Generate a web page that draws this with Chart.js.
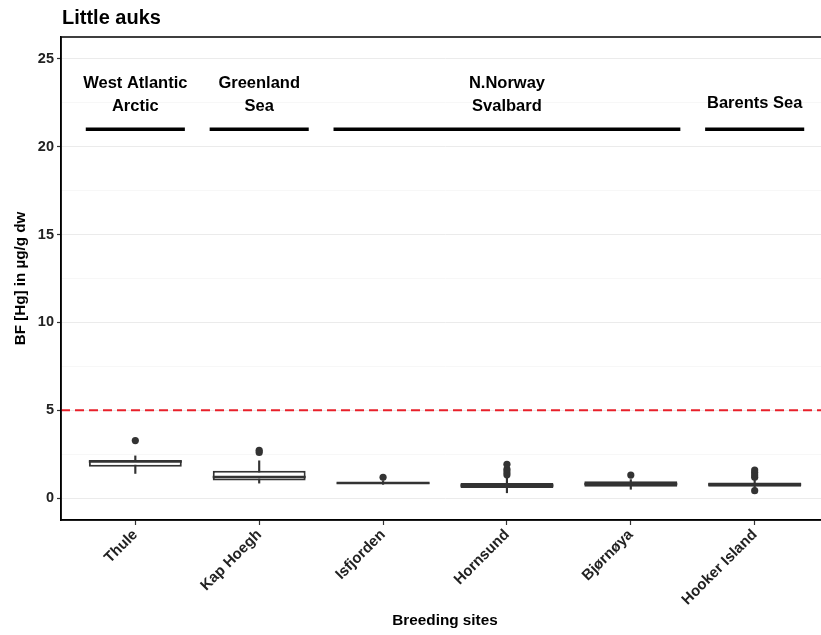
<!DOCTYPE html>
<html><head><meta charset="utf-8">
<script src="https://cdn.jsdelivr.net/npm/chart.js@4.4.1/dist/chart.umd.min.js"></script>
<style>html,body{margin:0;padding:0;background:#fff;overflow:hidden;}#wrap{width:840px;height:635px;}</style>
</head><body><div id="wrap"><canvas id="c" width="840" height="635"></canvas></div>
<script>
// ---- data ----
const categories = ['Thule', 'Kap Hoegh', 'Isfjorden', 'Hornsund', 'Bjørnøya', 'Hooker Island'];
const whiskerLow  = [1.40, 0.85, 0.78, 0.30, 0.50, 0.55];
const q1          = [1.78, 1.00, 0.80, 0.57, 0.65, 0.64];
const median      = [2.08, 1.20, 0.85, 0.72, 0.80, 0.77];
const q3          = [2.16, 1.55, 0.90, 0.86, 0.95, 0.88];
const whiskerHigh = [2.40, 2.12, 0.95, 1.15, 1.05, 1.00];
const outliers = [[3.27], [2.60, 2.72], [1.18], [1.32, 1.48, 1.64, 1.92], [1.31], [0.42, 1.18, 1.31, 1.45, 1.59]];
const yTickValues = [0, 5, 10, 15, 20, 25];
const thresholdValue = 5;
const groupNames = [['West Atlantic', 'Arctic'], ['Greenland', 'Sea'], ['N.Norway', 'Svalbard'], ['Barents Sea']];
const groupFrom = [0.6, 1.6, 2.6, 5.6];
const groupTo   = [1.4, 2.4, 5.4, 6.4];
const groupLineValue = 21;
const chartTitle = 'Little auks';
const xTitle = 'Breeding sites';
const yTitle = 'BF [Hg] in µg/g dw';

// ---- config ----
const X_MIN = 0.4, X_MAX = 6.6, Y_MIN = -1.25, Y_MAX = 26.25;
const FONT = '"Liberation Sans", Arial, sans-serif';
const DARK = '#333333';

const datasets = [];
// outliers (top)
datasets.push({
  type: 'line', showLine: false, order: 0,
  data: outliers.flatMap((arr, i) => arr.map(v => ({x: i + 1, y: v}))),
  pointRadius: 3.6, pointBackgroundColor: DARK, pointBorderWidth: 0
});
// medians
datasets.push({
  type: 'line', showLine: false, order: 1,
  data: median.map((v, i) => ({x: i + 1, y: v})),
  pointStyle: 'line', pointRadius: 46.5, pointBorderWidth: 2.5, pointBorderColor: DARK
});
// boxes
datasets.push({
  type: 'bar', order: 2, grouped: false,
  data: q1.map((v, i) => ({x: i + 1, y: [v, q3[i]]})),
  backgroundColor: '#ffffff', borderColor: DARK, borderWidth: 2, borderSkipped: false,
  barPercentage: 0.75, categoryPercentage: 1
});
// whiskers
datasets.push({
  type: 'bar', order: 3, grouped: false,
  data: whiskerLow.map((v, i) => ({x: i + 1, y: [v, whiskerHigh[i]]})),
  backgroundColor: DARK, borderWidth: 0, barThickness: 1.5
});
// group lines
groupFrom.forEach((f, i) => {
  datasets.push({
    type: 'line', order: 4,
    data: [{x: f, y: groupLineValue}, {x: groupTo[i], y: groupLineValue}],
    borderColor: '#000', borderWidth: 3.5, pointRadius: 0, borderCapStyle: 'butt'
  });
});
// threshold line
datasets.push({
  type: 'line', order: 5,
  data: [{x: X_MIN, y: thresholdValue}, {x: X_MAX, y: thresholdValue}],
  borderColor: '#e8202a', borderWidth: 1.8, borderDash: [9, 5], pointRadius: 0
});

const framePlugin = {
  id: 'frame',
  afterDraw(chart) {
    const {ctx, chartArea: a} = chart;
    ctx.save();
    ctx.strokeStyle = '#000'; ctx.lineWidth = 1.5;
    ctx.strokeRect(a.left, a.top, a.right - a.left, a.bottom - a.top);
    ctx.restore();
  }
};
const titlePlugin = {
  id: 'ttl',
  afterDraw(chart) {
    const {ctx, chartArea: a} = chart;
    ctx.save();
    ctx.font = 'bold 20px ' + FONT;
    ctx.fillStyle = '#000'; ctx.textAlign = 'left'; ctx.textBaseline = 'alphabetic';
    ctx.fillText(chartTitle, a.left + 1, 24);
    ctx.restore();
  }
};
const groupPlugin = {
  id: 'groups',
  afterDatasetsDraw(chart) {
    const {ctx} = chart;
    const xs = chart.scales.x, ys = chart.scales.y;
    ctx.save();
    ctx.font = 'bold 16.5px ' + FONT;
    ctx.fillStyle = '#000'; ctx.textAlign = 'center'; ctx.textBaseline = 'middle';
    groupNames.forEach((lines, i) => {
      const cx = xs.getPixelForValue((groupFrom[i] + groupTo[i]) / 2);
      if (lines.length === 2) {
        ctx.fillText(lines[0], cx, ys.getPixelForValue(23.63));
        ctx.fillText(lines[1], cx, ys.getPixelForValue(22.27));
      } else {
        ctx.fillText(lines[0], cx, ys.getPixelForValue(22.44));
      }
    });
    ctx.restore();
  }
};

new Chart(document.getElementById('c'), {
  data: {datasets},
  options: {
    responsive: false, animation: false, events: [],
    layout: {autoPadding: false, padding: {left: 0, right: 11, top: 37, bottom: 0}},
    plugins: {legend: {display: false}, tooltip: {enabled: false}},
    scales: {
      x: {
        type: 'linear', min: X_MIN, max: X_MAX, offset: false,
        afterBuildTicks: s => { s.ticks = categories.map((c, i) => ({value: i + 1})); },
        afterFit: s => { s.height = 115; },
        ticks: {
          callback: v => categories[Math.round(v) - 1],
          minRotation: 45, maxRotation: 45, autoSkip: false,
          font: {family: FONT, size: 15, weight: 'bold'}, color: '#222', padding: 1
        },
        grid: {offset: false, drawOnChartArea: false, tickLength: 5, tickColor: DARK, tickWidth: 1.2},
        border: {color: '#000', width: 1.5},
        title: {display: true, text: xTitle, color: '#000', font: {family: FONT, size: 15.3, weight: 'bold'}, padding: {top: 0, bottom: 5}}
      },
      y: {
        min: Y_MIN, max: Y_MAX,
        afterBuildTicks: s => {
          const t = [];
          yTickValues.forEach((v, i) => { t.push({value: v}); if (i < yTickValues.length - 1) t.push({value: (v + yTickValues[i + 1]) / 2}); });
          s.ticks = t;
        },
        afterFit: s => { s.width = 61; },
        ticks: {
          callback: v => (yTickValues.includes(v) ? String(v) : ''),
          font: {family: FONT, size: 14.5, weight: 'bold'}, color: '#222', padding: 3
        },
        grid: {
          color: c => (c.tick && yTickValues.includes(c.tick.value) ? '#ebebeb' : '#f7f7f7'),
          tickColor: c => (c.tick && yTickValues.includes(c.tick.value) ? DARK : 'rgba(0,0,0,0)'),
          tickLength: 4, lineWidth: 1, tickWidth: 1.2
        },
        border: {color: '#000', width: 1.5},
        title: {display: true, text: yTitle, color: '#000', font: {family: FONT, size: 15.2, weight: 'bold'}, padding: {top: 12, bottom: 0}}
      }
    }
  },
  plugins: [framePlugin, titlePlugin, groupPlugin]
});
</script>
</body></html>
